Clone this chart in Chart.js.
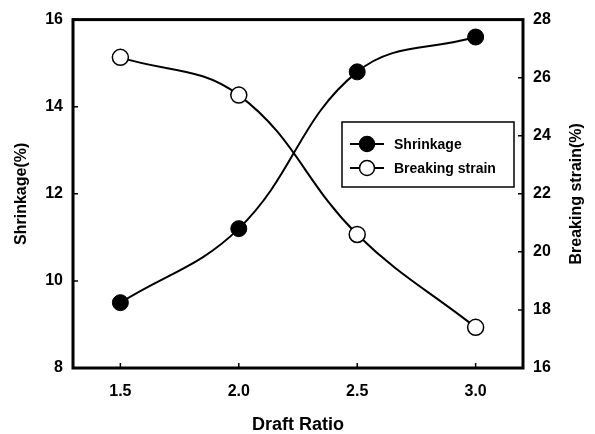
<!DOCTYPE html>
<html>
<head>
<meta charset="utf-8">
<script src="https://cdn.jsdelivr.net/npm/chart.js@4/dist/chart.umd.min.js"></script>
<style>
  html, body { margin: 0; padding: 0; background: #fff; }
  #wrap { width: 595px; height: 434px; position: relative; }
</style>
</head>
<body>
<div id="wrap"><canvas id="c" width="595" height="434"></canvas></div>
<script>
// ---- data ----
const draftRatio = [1.5, 2.0, 2.5, 3.0];
const shrinkage = [9.5, 11.2, 14.8, 15.6];
const breakingStrain = [26.7, 25.4, 20.6, 17.4];
const xTicks = [1.5, 2.0, 2.5, 3.0];
const leftTicks = [8, 10, 12, 14, 16];
const rightTicks = [16, 18, 20, 22, 24, 26, 28];
const seriesNames = ['Shrinkage', 'Breaking strain'];

const FONT = "'Liberation Sans', Arial, sans-serif";

const framePlugin = {
  id: 'frame',
  afterDraw(chart) {
    const ctx = chart.ctx;
    const a = chart.chartArea;
    const xs = chart.scales.x, yl = chart.scales.y, yr = chart.scales.y2;
    ctx.save();
    ctx.strokeStyle = '#000';
    // inward ticks
    ctx.lineWidth = 1.5;
    ctx.beginPath();
    xTicks.forEach(v => { const px = xs.getPixelForValue(v); ctx.moveTo(px, a.bottom); ctx.lineTo(px, a.bottom - 5); });
    leftTicks.forEach(v => { const py = yl.getPixelForValue(v); ctx.moveTo(a.left, py); ctx.lineTo(a.left + 5, py); });
    rightTicks.forEach(v => { const py = yr.getPixelForValue(v); ctx.moveTo(a.right, py); ctx.lineTo(a.right - 5, py); });
    ctx.stroke();
    // frame
    ctx.lineWidth = 3;
    ctx.strokeRect(a.left, a.top, a.right - a.left, a.bottom - a.top);
    // right title (reads bottom-to-top)
    ctx.fillStyle = '#000';
    ctx.font = "bold 16px " + FONT;
    ctx.textAlign = 'center';
    ctx.textBaseline = 'middle';
    ctx.translate(577, (a.top + a.bottom) / 2);
    ctx.rotate(-Math.PI / 2);
    ctx.fillText('Breaking strain(%)', 0, 0);
    ctx.restore();

    // legend box
    ctx.save();
    const lx = 342, ly = 122, lw = 172, lh = 65;
    ctx.fillStyle = '#fff';
    ctx.fillRect(lx, ly, lw, lh);
    ctx.strokeStyle = '#000';
    ctx.lineWidth = 1.5;
    ctx.strokeRect(lx, ly, lw, lh);
    const rows = [144, 168];
    chart.data.datasets.forEach((ds, i) => {
      const y = rows[i];
      ctx.lineWidth = 2;
      ctx.strokeStyle = '#000';
      ctx.beginPath();
      ctx.moveTo(350, y); ctx.lineTo(384, y);
      ctx.stroke();
      ctx.beginPath();
      ctx.arc(367, y, 7.5, 0, Math.PI * 2);
      ctx.fillStyle = ds.pointBackgroundColor;
      ctx.fill();
      ctx.lineWidth = 1.5;
      ctx.stroke();
      ctx.fillStyle = '#000';
      ctx.font = "bold 14px " + FONT;
      ctx.textAlign = 'left';
      ctx.textBaseline = 'middle';
      ctx.fillText(ds.label, 394, y + 1);
    });
    ctx.restore();
  }
};

new Chart(document.getElementById('c'), {
  type: 'line',
  data: {
    datasets: [
      {
        label: seriesNames[0],
        data: draftRatio.map((x, i) => ({ x, y: shrinkage[i] })),
        yAxisID: 'y',
        borderColor: '#000',
        borderWidth: 2,
        tension: 0.4,
        pointRadius: 8,
        pointBackgroundColor: '#000',
        pointBorderColor: '#000',
        pointBorderWidth: 1,
        fill: false
      },
      {
        label: seriesNames[1],
        data: draftRatio.map((x, i) => ({ x, y: breakingStrain[i] })),
        yAxisID: 'y2',
        borderColor: '#000',
        borderWidth: 2,
        tension: 0.4,
        pointRadius: 8,
        pointBackgroundColor: '#fff',
        pointBorderColor: '#000',
        pointBorderWidth: 1.5,
        fill: false
      }
    ]
  },
  options: {
    responsive: false,
    animation: false,
    layout: { padding: { top: 18, left: 0, right: 0, bottom: 0 } },
    plugins: { legend: { display: false }, tooltip: { enabled: false } },
    scales: {
      x: {
        type: 'linear',
        min: 1.3, max: 3.2,
        afterBuildTicks: s => { s.ticks = xTicks.map(v => ({ value: v })); },
        afterFit: s => { s.height = 66; },
        grid: { display: false, drawTicks: false },
        border: { display: false },
        ticks: { color: '#000', padding: 14, font: { family: FONT, size: 16, weight: 'bold' }, callback: v => v.toFixed(1) },
        title: { display: true, text: 'Draft Ratio', color: '#000', font: { family: FONT, size: 18, weight: 'bold', lineHeight: 1.0 }, padding: { top: 0, bottom: 0 } }
      },
      y: {
        position: 'left',
        min: 8, max: 16,
        afterBuildTicks: s => { s.ticks = leftTicks.map(v => ({ value: v })); },
        afterFit: s => { s.width = 73; },
        grid: { display: false, drawTicks: false },
        border: { display: false },
        ticks: { color: '#000', padding: 10, font: { family: FONT, size: 16, weight: 'bold' } },
        title: { display: true, text: 'Shrinkage(%)', color: '#000', font: { family: FONT, size: 16, weight: 'bold' }, padding: { top: 12, bottom: 0 } }
      },
      y2: {
        position: 'right',
        min: 16, max: 28,
        afterBuildTicks: s => { s.ticks = rightTicks.map(v => ({ value: v })); },
        afterFit: s => { s.width = 72; },
        grid: { display: false, drawTicks: false },
        border: { display: false },
        ticks: { color: '#000', padding: 10, font: { family: FONT, size: 16, weight: 'bold' } }
      }
    }
  },
  plugins: [framePlugin]
});
</script>
</body>
</html>
